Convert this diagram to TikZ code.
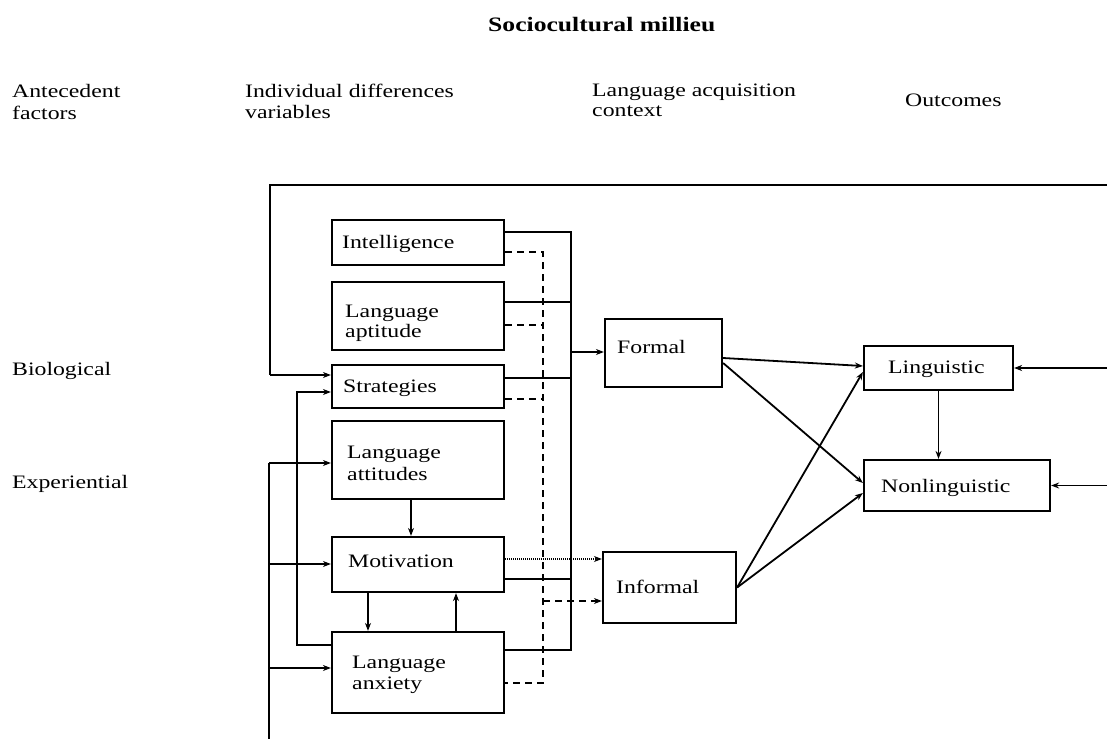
\documentclass[tikz,border=0pt]{standalone}
\usepackage{fontspec}
\setmainfont{Liberation Serif}[FakeStretch=1.25]
\usetikzlibrary{arrows.meta,calc}
\begin{document}
\begin{tikzpicture}[x=1pt,y=-1pt,
  box/.style={draw, line width=2.2pt, inner sep=0pt},
  txt/.style={anchor=base west, inner sep=0pt, font=\fontsize{19}{22}\selectfont},
  ttl/.style={anchor=base west, inner sep=0pt, font=\bfseries\fontsize{20.5}{24}\selectfont},
  ln/.style={line width=1.8pt},
  arr/.style={line width=1.8pt, -{Stealth[length=8pt,width=6pt]}},
  dsh/.style={line width=2.3pt, dash pattern=on 7pt off 5pt},
  dsharr/.style={line width=2.3pt, dash pattern=on 7pt off 5pt, -{Stealth[length=8pt,width=6pt]}},
  dotarr/.style={line width=1.8pt, dash pattern=on 1.2pt off 0.8pt, -{Stealth[length=8pt,width=6pt]}}]
\useasboundingbox (0,0) rectangle (1107,738);

% headers
\node[ttl] (title) at (488,32) {Sociocultural millieu};
\node[txt] (hA1) at (12,98) {Antecedent};
\node[txt] (hA2) at (12,120) {factors};
\node[txt] (hB1) at (245,98) {Individual differences};
\node[txt] (hB2) at (245,119) {variables};
\node[txt] (hC1) at (592,97) {Language acquisition};
\node[txt] (hC2) at (592,117) {context};
\node[txt] (hD) at (905,107) {Outcomes};
\node[txt] (bio) at (12,375) {Biological};
\node[txt] (exp) at (12,488) {Experiential};

% boxes
\node[box, minimum width=172pt, minimum height=45pt] (intel) at (418,242.5) {};
\node[box, minimum width=172pt, minimum height=68pt] (apt) at (418,316) {};
\node[box, minimum width=172pt, minimum height=43pt] (strat) at (418,386.5) {};
\node[box, minimum width=172pt, minimum height=78pt] (att) at (418,460) {};
\node[box, minimum width=172pt, minimum height=55pt] (mot) at (418,564.5) {};
\node[box, minimum width=172pt, minimum height=81pt] (anx) at (418,672.5) {};
\node[box, minimum width=117pt, minimum height=68pt] (formal) at (663.5,353) {};
\node[box, minimum width=133pt, minimum height=71pt] (informal) at (669.5,587.5) {};
\node[box, minimum width=149pt, minimum height=44pt] (ling) at (938.5,368) {};
\node[box, minimum width=186pt, minimum height=51pt] (nonling) at (957,485.5) {};

% box texts
\node[txt] (tintel) at (342,248) {Intelligence};
\node[txt] (tapt1) at (345,317) {Language};
\node[txt] (tapt2) at (345,337) {aptitude};
\node[txt] (tstrat) at (343,392) {Strategies};
\node[txt] (tatt1) at (347,458) {Language};
\node[txt] (tatt2) at (347,480) {attitudes};
\node[txt] (tmot) at (348,567) {Motivation};
\node[txt] (tanx1) at (352,668) {Language};
\node[txt] (tanx2) at (352,689) {anxiety};
\node[txt] (tformal) at (617,353) {Formal};
\node[txt] (tinformal) at (616,593) {Informal};
\node[txt] (tling) at (888,373) {Linguistic};
\node[txt] (tnonling) at (881,492) {Nonlinguistic};

% outer loop
\coordinate (TR) at (1107.5,185);
\coordinate (BR) at (1107.5,488);
\coordinate (TL) at (270,185);
\coordinate (SL) at (270,375);
\draw[ln] (BR) -- (TR) -- (TL) -- (SL);
\draw[arr] (SL) -- (strat.west |- SL);
\draw[arr] (ling.east -| TR) -- (ling.east);
\draw[arr] (nonling.east -| TR) -- (nonling.east);

% left feeds
\coordinate (LB) at (269,740);
\coordinate (LA) at (269,463);
\coordinate (LM) at (269,564);
\coordinate (LX) at (269,668);
\draw[ln] (LB) -- (LA);
\draw[arr] (LA) -- (att.west |- LA);
\draw[arr] (LM) -- (mot.west |- LM);
\draw[arr] (LX) -- (anx.west |- LX);
\coordinate (S1) at (297,645);
\coordinate (S2) at (297,392);
\draw[arr] (anx.west |- S1) -- (S1) -- (S2) -- (strat.west |- S2);

% internal arrows
\coordinate (c411) at (411,0);
\coordinate (c368) at (368,0);
\coordinate (c456) at (456,0);
\draw[arr] (att.south -| c411) -- (mot.north -| c411);
\draw[arr] (mot.south -| c368) -- (anx.north -| c368);
\draw[arr] (anx.north -| c456) -- (mot.south -| c456);

% solid bus
\coordinate (b1) at (571,232);
\coordinate (b2) at (571,302);
\coordinate (b3) at (571,378);
\coordinate (b4) at (571,579);
\coordinate (b5) at (571,650);
\coordinate (bF) at (571,352);
\draw[ln] (intel.east |- b1) -- (b1) -- (b5) -- (anx.east |- b5);
\draw[ln] (apt.east |- b2) -- (b2);
\draw[ln] (strat.east |- b3) -- (b3);
\draw[ln] (mot.east |- b4) -- (b4);
\draw[arr] (bF) -- (formal.west |- bF);

% dashed bus
\coordinate (d1) at (543,252);
\coordinate (d2) at (543,325);
\coordinate (d3) at (543,399);
\coordinate (d4) at (543,683);
\coordinate (dI) at (543,601);
\draw[dsh] (intel.east |- d1) -- (d1) -- (d4) -- (anx.east |- d4);
\draw[dsh] (apt.east |- d2) -- (d2);
\draw[dsh] (strat.east |- d3) -- (d3);
\draw[dsharr] (dI) -- (informal.west |- dI);

% dotted
\coordinate (m1) at (504,559);
\draw[dotarr] (mot.east |- m1) -- (informal.west |- m1);

% to outcomes
\draw[arr] ($(formal.east)+(0,5)$) -- ($(ling.west)+(0,-2)$);
\draw[arr] ($(formal.east)+(0,10)$) -- ($(nonling.west)+(0,-2.5)$);
\draw[arr] (informal.east) -- ($(ling.west)+(0,4)$);
\draw[arr] (informal.east) -- ($(nonling.west)+(0,7.5)$);
\draw[arr] (ling.south) -- (ling.south |- nonling.north);
\end{tikzpicture}
\end{document}
